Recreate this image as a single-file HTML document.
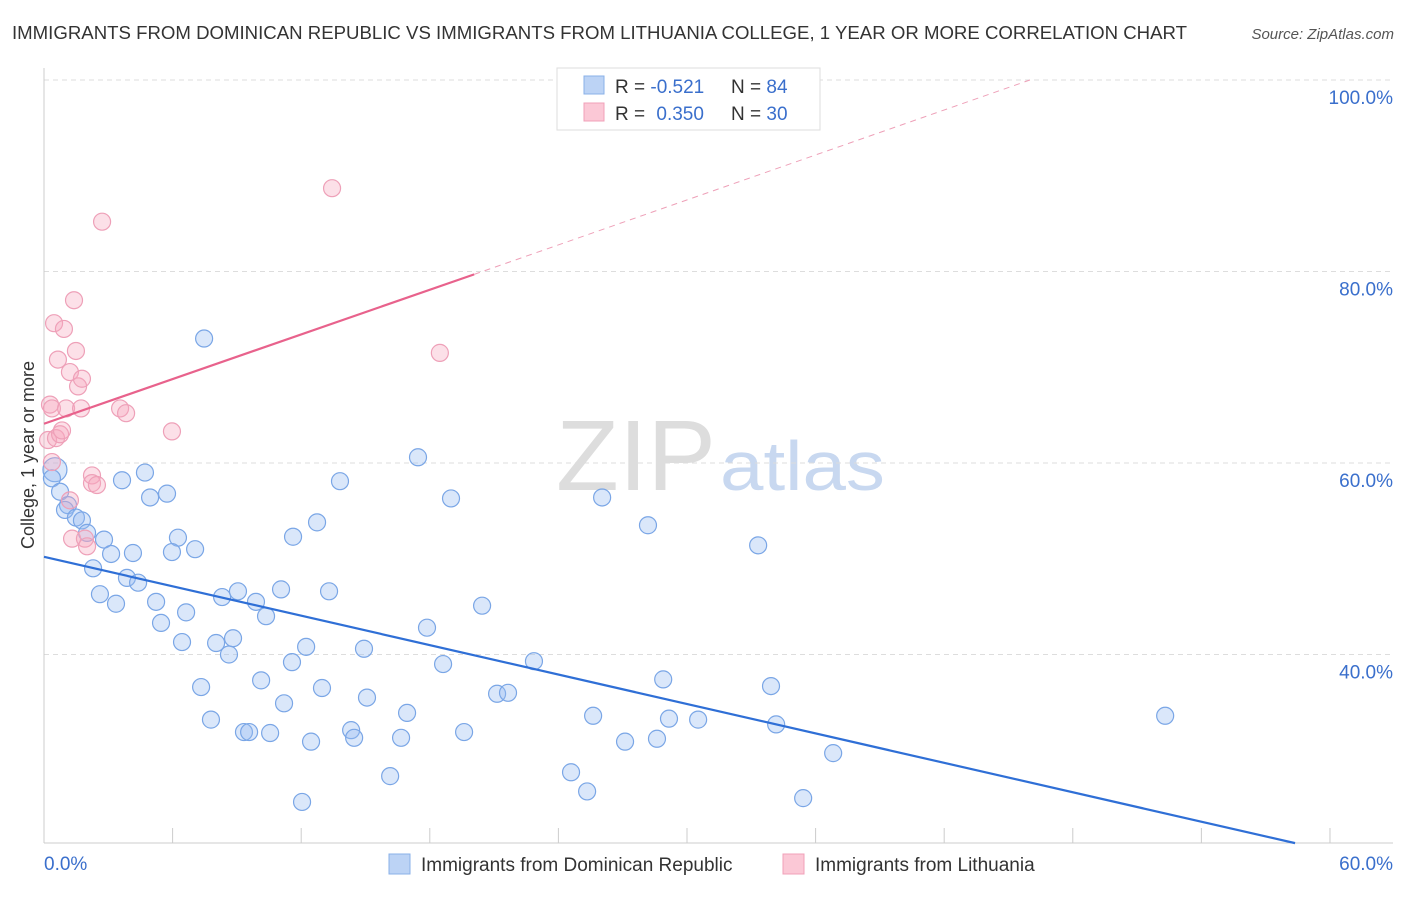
<!DOCTYPE html>
<html><head><meta charset="utf-8"><style>
body{margin:0;background:#fff;font-family:"Liberation Sans",sans-serif;}
svg text{font-family:"Liberation Sans",sans-serif;}
</style></head><body>
<svg id="chart" width="1406" height="892">
<text x="12" y="39" font-size="18" fill="#333" textLength="1175" lengthAdjust="spacingAndGlyphs">IMMIGRANTS FROM DOMINICAN REPUBLIC VS IMMIGRANTS FROM LITHUANIA COLLEGE, 1 YEAR OR MORE CORRELATION CHART</text>
<text x="1394" y="39" font-size="15" fill="#555" font-style="italic" text-anchor="end">Source: ZipAtlas.com</text>
<text x="716" y="490" font-size="100" fill="#ddd" text-anchor="end" font-family="Liberation Serif" textLength="160" lengthAdjust="spacingAndGlyphs">ZIP</text>
<text x="720" y="490" font-size="70" fill="#c8d8f0" textLength="165" lengthAdjust="spacingAndGlyphs">atlas</text>
<text transform="translate(34,455) rotate(-90)" font-size="18" fill="#333" text-anchor="middle">College, 1 year or more</text>
<g id="grid"></g><g id="axes"></g><g id="pts"></g><g id="lines"></g>
<g>
<rect x="557" y="68" width="263" height="62" fill="#fff" stroke="#ddd"/>
<rect x="584" y="76" width="20" height="18" fill="#bcd3f5" stroke="#8ab0e8"/>
<rect x="584" y="103" width="20" height="18" fill="#fbc8d6" stroke="#f0a0b8"/>
<text x="615" y="93" font-size="19" fill="#333">R = <tspan fill="#3a6fcc">-0.521</tspan></text>
<text x="731" y="93" font-size="19" fill="#333">N = <tspan fill="#3a6fcc">84</tspan></text>
<text x="615" y="120" font-size="19" fill="#333">R = <tspan fill="#3a6fcc" dx="6">0.350</tspan></text>
<text x="731" y="120" font-size="19" fill="#333">N = <tspan fill="#3a6fcc">30</tspan></text>
</g>
<g>
<rect x="389" y="854" width="21" height="20" fill="#bcd3f5" stroke="#8ab0e8"/>
<text x="421" y="871" font-size="19" fill="#333">Immigrants from Dominican Republic</text>
<rect x="783" y="854" width="21" height="20" fill="#fbc8d6" stroke="#f0a0b8"/>
<text x="815" y="871" font-size="19" fill="#333">Immigrants from Lithuania</text>
</g>
</svg>
<script>
const yTicks=[40,60,80,100];
const xTickLabels=["0.0%","60.0%"];
const blueX=[0.51,0.37,0.75,1.12,0.98,1.49,1.77,2.01,2.8,2.29,3.13,4.15,3.87,4.39,2.61,3.36,3.64,4.71,4.95,5.74,6.25,5.97,7.05,5.23,5.46,6.63,6.44,7.33,7.79,7.47,8.31,9.05,9.89,10.36,11.06,11.62,12.74,8.03,8.63,8.82,9.33,9.57,10.13,10.55,11.2,11.57,12.23,12.46,12.97,12.04,13.3,13.81,14.33,14.47,14.93,15.07,16.15,16.66,16.94,17.45,17.87,18.62,18.99,19.6,20.44,21.14,21.65,22.86,24.59,25.34,25.62,26.04,27.11,28.18,28.6,28.89,29.16,30.52,33.32,33.92,34.16,35.42,36.82,52.31];
const blueY=[59.3,58.4,57.0,55.6,55.1,54.3,54.0,52.7,52.0,49.0,50.5,50.6,48.0,47.5,46.3,45.3,58.2,59.0,56.4,56.8,52.2,50.7,51.0,45.5,43.3,44.4,41.3,36.6,33.2,73.0,46.0,46.6,45.5,44.0,46.8,52.3,53.8,41.2,40.0,41.7,31.9,31.9,37.3,31.8,34.9,39.2,40.8,30.9,36.5,24.6,46.6,58.1,32.1,31.3,40.6,35.5,27.3,31.3,33.9,60.6,42.8,39.0,56.3,31.9,45.1,35.9,36.0,39.3,27.7,25.7,33.6,56.4,30.9,53.5,31.2,37.4,33.3,33.2,51.4,36.7,32.7,25.0,29.7,33.6];
const pinkX=[0.19,0.28,0.37,0.47,0.56,0.65,0.75,0.84,0.93,1.03,1.21,1.21,1.31,1.4,1.49,1.59,1.73,1.77,1.91,2.01,2.24,2.24,2.47,2.71,3.55,3.83,5.97,13.44,18.47,0.37];
const pinkY=[62.4,66.1,65.7,74.6,62.6,70.8,63.0,63.4,74.0,65.7,69.5,56.1,52.1,77.0,71.7,68.0,65.7,68.8,52.1,51.3,58.7,57.9,57.7,85.2,65.7,65.2,63.3,88.7,71.5,60.1];
const blueTrend=[0,50.2,58.37,20.3];
const pinkTrend=[0,64.1,20.07,79.7,46.0,100];
const X=v=>44+v*21.433, Y=v=>80+(100-v)*9.575;
const NS="http://www.w3.org/2000/svg";
function mk(p,t,a){const e=document.createElementNS(NS,t);for(const k in a)e.setAttribute(k,a[k]);document.getElementById(p).appendChild(e);return e;}
yTicks.forEach(v=>{
 const l=mk('grid','line',{x1:44,x2:1393,y1:Y(v),y2:Y(v),stroke:'#ddd','stroke-dasharray':'5,4'});
 
 
 const t=mk('grid','text',{x:1393,y:Y(v)+24,'font-size':19,fill:'#3a6fcc','text-anchor':'end'});
 t.textContent=v.toFixed(1)+'%';
 
 
});
const ax=mk('axes','line',{x1:44,x2:44,y1:68,y2:843,stroke:'#ccc'});


const bx=mk('axes','line',{x1:44,x2:1393,y1:843,y2:843,stroke:'#ccc'});


for(let i=0;i<=10;i++){const t=mk('axes','line',{x1:X(i*6),x2:X(i*6),y1:828,y2:843,stroke:'#ccc'});
 
 }
xTickLabels.forEach((s,i)=>{const t=mk('axes','text',{x:i?1393:44,y:870,'font-size':19,fill:'#3a6fcc','text-anchor':i?'end':'start'});t.textContent=s;
 
 });
blueX.forEach((x,i)=>{const c=mk('pts','circle',{cx:X(x),cy:Y(blueY[i]),r:i===0?12:8.5,fill:'rgba(150,185,240,0.35)',stroke:'#7aa6e6','stroke-width':1.2});
 
 });
pinkX.forEach((x,i)=>{const c=mk('pts','circle',{cx:X(x),cy:Y(pinkY[i]),r:8.5,fill:'rgba(245,165,190,0.35)',stroke:'#eea0b8','stroke-width':1.2});
 
 });
const bl=mk('lines','line',{x1:X(blueTrend[0]),y1:Y(blueTrend[1]),x2:X(blueTrend[2]),y2:Y(blueTrend[3]),stroke:'#2f6fd6','stroke-width':2.2});


const pl=mk('lines','line',{x1:X(pinkTrend[0]),y1:Y(pinkTrend[1]),x2:X(pinkTrend[2]),y2:Y(pinkTrend[3]),stroke:'#e8628c','stroke-width':2.2});


const pd=mk('lines','line',{x1:X(pinkTrend[2]),y1:Y(pinkTrend[3]),x2:X(pinkTrend[4]),y2:Y(pinkTrend[5]),stroke:'#eea0b8','stroke-width':1,'stroke-dasharray':'6,5'});


</script>
</body></html>
